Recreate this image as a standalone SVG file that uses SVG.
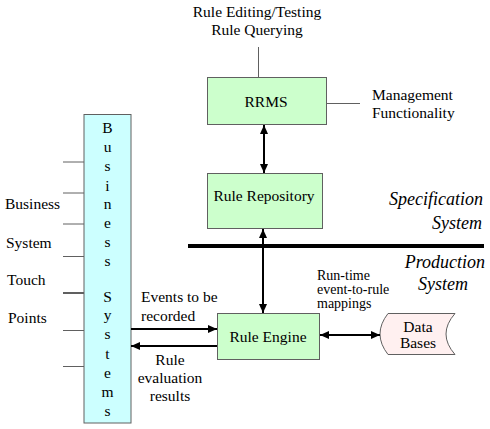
<svg xmlns="http://www.w3.org/2000/svg" width="490" height="429" viewBox="0 0 490 429" font-family="'Liberation Serif', 'DejaVu Serif', 'Times New Roman', serif">
<defs>
<style>
text{font-family:"Liberation Serif","DejaVu Serif","Times New Roman",serif;font-size:15.5px;fill:#000}
.c{text-anchor:middle}
.sm{font-size:14px}
.it{font-style:italic;font-size:18px;text-anchor:end}
.box{fill:#ccffcc;stroke:#606060;stroke-width:1}
.tick{stroke:#606060;stroke-width:1;fill:none}
.arr{stroke:#000;stroke-width:2;fill:none}
</style>
<marker id="ah" viewBox="0 0 10 10" refX="10" refY="5" markerWidth="9" markerHeight="8" markerUnits="userSpaceOnUse" orient="auto-start-reverse" preserveAspectRatio="none">
<path d="M0,0 L10,5 L0,10 z" fill="#000"/>
</marker>
</defs>
<rect width="490" height="429" fill="#fff"/>

<g id="business-systems">
<rect x="84" y="114.5" width="47" height="308.5" fill="#ccffff" stroke="#606060"/>
<text class="c" x="107.5" y="133">B</text>
<text class="c" x="107.5" y="152">u</text>
<text class="c" x="107.5" y="171">s</text>
<text class="c" x="107.5" y="191">i</text>
<text class="c" x="107.5" y="209">n</text>
<text class="c" x="107.5" y="228">e</text>
<text class="c" x="107.5" y="247">s</text>
<text class="c" x="107.5" y="266">s</text>
<text class="c" x="107.5" y="302">S</text>
<text class="c" x="107.5" y="320">y</text>
<text class="c" x="107.5" y="339">s</text>
<text class="c" x="107.5" y="359">t</text>
<text class="c" x="107.5" y="378">e</text>
<text class="c" x="107.5" y="397">m</text>
<text class="c" x="107.5" y="416">s</text>
</g>

<g id="touch-points">
<path class="tick" d="M63,162H84M63,193H84M63,224H84M63,256.5H84M63,330.5H84M63,366.5H84"/>
<path d="M63,293H84" stroke="#606060" stroke-width="2"/>
<text x="5" y="209">Business</text>
<text x="6" y="248">System</text>
<text x="7" y="285">Touch</text>
<text x="8" y="323">Points</text>
</g>

<g id="rrms">
<rect class="box" x="207.5" y="77.5" width="119" height="47"/>
<text class="c" x="266" y="107">RRMS</text>
<path class="tick" d="M258.5,47V77.5M326.5,103.5H360"/>
<text class="c" x="257" y="17">Rule Editing/Testing</text>
<text class="c" x="257" y="35">Rule Querying</text>
<text x="372" y="100">Management</text>
<text x="372" y="118">Functionality</text>
</g>

<g id="rule-repository">
<rect class="box" x="207.5" y="173.5" width="115" height="55"/>
<text class="c" x="264" y="201">Rule Repository</text>
</g>

<g id="divider">
<path d="M188,246H484" stroke="#000" stroke-width="4"/>
<text class="it" x="483" y="205">Specification</text>
<text class="it" x="482" y="229">System</text>
<text class="it" x="485" y="268">Production</text>
<text class="it" x="468" y="290">System</text>
</g>

<g id="rule-engine">
<rect class="box" x="217.5" y="313.5" width="102" height="46"/>
<text class="c" x="268" y="342">Rule Engine</text>
</g>

<g id="data-bases">
<path d="M388,313.5H455Q437,334 455,354.5H388Q372,334 388,313.5Z" fill="#fff0f0" stroke="#606060"/>
<text class="c" x="418" y="332">Data</text>
<text class="c" x="418" y="348">Bases</text>
</g>

<g id="connectors">
<path class="arr" d="M264,125V173" marker-start="url(#ah)" marker-end="url(#ah)"/>
<path class="arr" d="M263,229V313" marker-start="url(#ah)" marker-end="url(#ah)"/>
<path class="arr" d="M131,329H217" marker-end="url(#ah)"/>
<path class="arr" d="M217,346H131" marker-end="url(#ah)"/>
<path class="arr" d="M320,335H380" marker-start="url(#ah)" marker-end="url(#ah)"/>
<text x="141" y="302">Events to be</text>
<text x="141" y="321">recorded</text>
<text class="c" x="170" y="365">Rule</text>
<text class="c" x="170" y="383">evaluation</text>
<text class="c" x="170" y="401">results</text>
<text class="sm" x="317" y="280">Run-time</text>
<text class="sm" x="317" y="294">event-to-rule</text>
<text class="sm" x="317" y="308">mappings</text>
</g>
</svg>
